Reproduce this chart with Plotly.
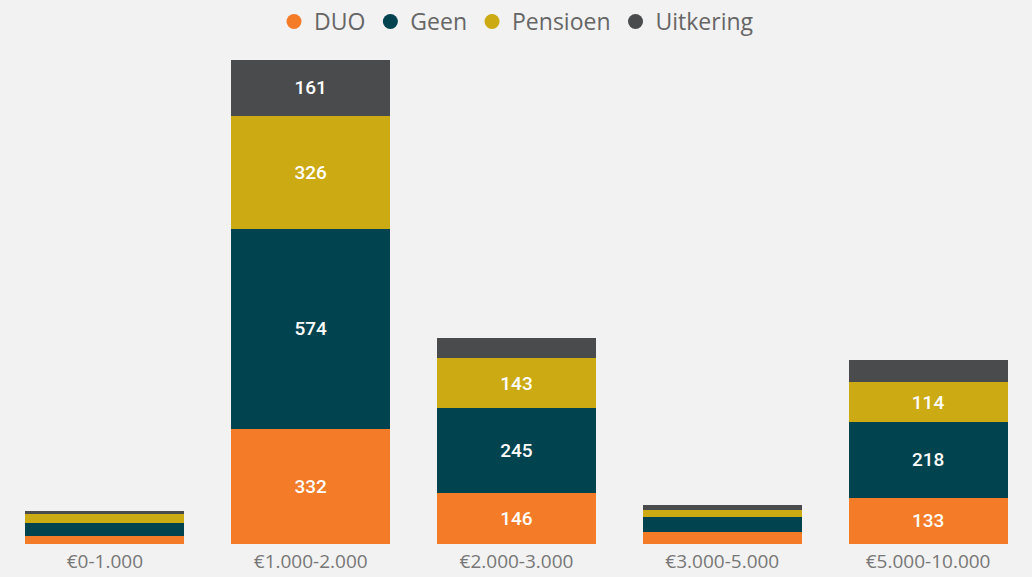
import plotly.graph_objects as go

categories = ["€0-1.000", "€1.000-2.000", "€2.000-3.000", "€3.000-5.000", "€5.000-10.000"]
duo = [24, 332, 146, 35, 133]
geen = [36, 574, 245, 42, 218]
pensioen = [27, 326, 143, 21, 114]
uitkering = [9, 161, 59, 14, 64]

series = [
    ("DUO", duo, "#F47B27"),
    ("Geen", geen, "#01444F"),
    ("Pensioen", pensioen, "#CBAA14"),
    ("Uitkering", uitkering, "#4A4B4D"),
]

LABEL_MIN = 100

fig = go.Figure()
for name, vals, color in series:
    fig.add_trace(go.Bar(
        x=categories, y=vals, name=name,
        marker=dict(color=color, line=dict(width=0)),
        text=[str(v) if v >= LABEL_MIN else "" for v in vals],
        textposition="inside", insidetextanchor="middle", textangle=0,
        textfont=dict(family="Roboto", size=19, color="white", weight=500),
        showlegend=False, hoverinfo="skip",
    ))
    fig.add_trace(go.Scatter(
        x=[None], y=[None], mode="markers", name=name,
        marker=dict(symbol="circle", size=15, color=color),
        showlegend=True,
    ))

totals = [sum(t) for t in zip(duo, geen, pensioen, uitkering)]

fig.update_layout(
    barmode="stack", bargap=0.228,
    width=1032, height=577,
    paper_bgcolor="#F2F2F2", plot_bgcolor="#F2F2F2",
    margin=dict(l=2, r=1, t=60, b=33),
    legend=dict(orientation="h", x=0.5, xanchor="center", y=1.0, yanchor="top",
                yref="container", traceorder="normal", itemwidth=30,
                font=dict(family="Open Sans", size=23, color="#666666")),
    xaxis=dict(showgrid=False, zeroline=False, showline=False, automargin=False,
               tickfont=dict(family="Open Sans", size=19, color="#777777"),
               ticks="", ticklabelstandoff=4, fixedrange=True),
    yaxis=dict(visible=False, range=[0, max(totals)], fixedrange=True, automargin=False),
)

fig.write_html("out.html", config={"displayModeBar": False},
               post_script="document.body.style.margin='0';document.body.style.background='#F2F2F2';")
